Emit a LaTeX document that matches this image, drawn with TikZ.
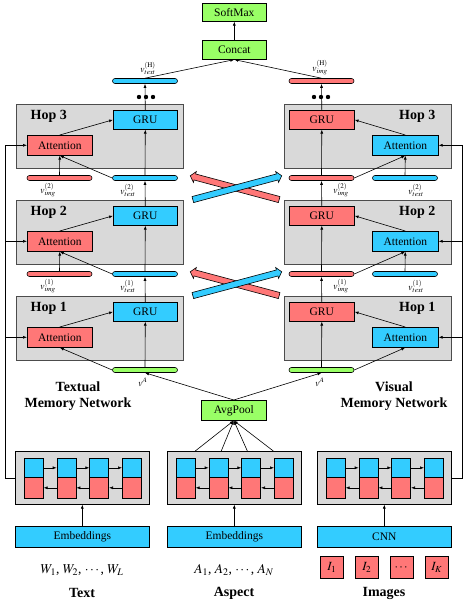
\documentclass[tikz,border=0pt]{standalone}
\usepackage{amsmath}
\usepackage{mathptmx}
\usepackage[no-math]{fontspec}
\setmainfont{Liberation Serif}
\usepackage{tikz}
\usetikzlibrary{arrows.meta,calc,shapes.arrows}
\definecolor{cellblue}{RGB}{51,204,255}
\definecolor{cellred}{RGB}{255,119,119}
\definecolor{cellgreen}{RGB}{153,255,102}
\definecolor{hopgray}{RGB}{217,217,217}

\begin{document}
\begin{tikzpicture}[x=1pt,y=-1pt,line width=0.6pt,
	blk/.style={draw, inner sep=0pt, anchor=north west, font=\fontsize{11.5}{12}\selectfont},
	bluebox/.style={blk, fill=cellblue},
	redbox/.style={blk, fill=cellred},
	greenbox/.style={blk, fill=cellgreen},
	hopbox/.style={blk, draw=black!70, fill=hopgray, minimum width=167, minimum height=64},
	lstmbox/.style={blk, fill=hopgray, minimum width=134, minimum height=53},
	vbar/.style={draw, rounded corners=2.5, minimum width=65, minimum height=5, inner sep=0pt},
	vlab/.style={font=\fontsize{9.5}{9.5}\selectfont},
	title/.style={font=\fontsize{14}{16}\selectfont\bfseries},
	arr/.style={-{Latex[length=4pt,width=3pt]}},
	crossarr/.style={single arrow, draw, inner sep=2.8pt, minimum height=92, single arrow head extend=2.5pt, single arrow tip angle=100}]
	\useasboundingbox (0,0) rectangle (464,610);

	\node[greenbox, minimum width=64, minimum height=18] (sm) at (202,3) {SoftMax};
	\node[greenbox, minimum width=64, minimum height=19] (cc) at (202,40) {Concat};
	\draw[arr] (cc) -- (sm);

	\foreach \h/\t in {1/296,2/200,3/104}{
		\node[hopbox] (lh\h) at (16,\t) {};
		\node[title, anchor=west] (lt\h) at (27,\t+12) {Hop \h};
		\node[bluebox, minimum width=64, minimum height=19] (lg\h) at (113,\t+6) {GRU};
		\node[redbox, minimum width=65, minimum height=20] (la\h) at (27,\t+31) {Attention};
		\node[hopbox] (rh\h) at (284,\t) {};
		\node[title, anchor=east] (rt\h) at (439,\t+12) {Hop \h};
		\node[redbox, minimum width=65, minimum height=19] (rg\h) at (289,\t+6) {GRU};
		\node[bluebox, minimum width=66, minimum height=20] (ra\h) at (372,\t+31) {Attention};
		\draw[arr] (la\h.north) -- (lg\h.west);
		\draw[arr] (ra\h.north) -- (rg\h.east);
	}

	\node[vbar, fill=cellgreen] (lva) at (145,370) {};
	\node[vbar, fill=cellgreen] (rva) at (321.5,370) {};
	\node[vlab] (lval) at (143,382) {$v^{A}$};
	\node[vlab] (rval) at (320,382) {$v^{A}$};
	\draw[arr] (lva.north) -- (lg1.south);
	\draw[arr] (lva.west) -- (la1.south);
	\draw[arr] (rva.north) -- (rg1.south);
	\draw[arr] (rva.east) -- (ra1.south);

	\foreach \h/\p/\t in {2/1/200,3/2/104}{
		\node[vbar, fill=cellred] (lbi\h) at (59.5,\t+74) {};
		\node[vbar, fill=cellblue] (lbt\h) at (145,\t+74) {};
		\node[vlab] (lbil\h) at (48,\t+86) {$v^{(\p)}_{img}$};
		\node[vlab] (lbtl\h) at (128,\t+86) {$v^{(\p)}_{text}$};
		\node[vbar, fill=cellred] (rbi\h) at (321.5,\t+74) {};
		\node[vbar, fill=cellblue] (rbt\h) at (405,\t+74) {};
		\node[vlab] (rbil\h) at (341,\t+86) {$v^{(\p)}_{img}$};
		\node[vlab] (rbtl\h) at (416,\t+86) {$v^{(\p)}_{text}$};
		\draw[arr] (lg\p.north) -- (lbt\h.south);
		\draw[arr] (lbt\h.north) -- (lg\h.south);
		\draw[arr] (lbi\h.north) -- (la\h.south);
		\draw[arr] (lbt\h.west) -- (la\h.south);
		\draw[arr] (rg\p.north) -- (rbi\h.south);
		\draw[arr] (rbi\h.north) -- (rg\h.south);
		\draw[arr] (rbt\h.north) -- (ra\h.south);
		\draw[arr] (rbi\h.east) -- (ra\h.south);
		\node[crossarr, fill=cellred, rotate=165] (xr\h) at (236,\t+84) {};
		\node[crossarr, fill=cellblue, rotate=15] (xb\h) at (236,\t+84) {};
	}

	\node[vbar, fill=cellblue] (lth) at (145,81) {};
	\node[vbar, fill=cellred] (rth) at (321.5,81) {};
	\node[vlab] (lthl) at (148,68) {$v^{(\mathrm{H})}_{text}$};
	\node[vlab] (rthl) at (320,68) {$v^{(\mathrm{H})}_{img}$};
	\draw[arr] (lg3.north) -- (lth.south);
	\draw[arr] (rg3.north) -- (rth.south);
	\draw[arr] (lth.north) -- (cc.south);
	\draw[arr] (rth.north) -- (cc.south);
	\foreach \d in {-7,0,7}{
		\fill (146+\d,97) circle (2.2);
		\fill (321+\d,97) circle (2.2);
	}

	\node[title, align=center] (tmn) at (78,396) {Textual\\Memory Network};
	\node[title, align=center] (vmn) at (394,396) {Visual\\Memory Network};
	\node[greenbox, minimum width=65, minimum height=20] (ap) at (201,400) {AvgPool};

	\foreach \n/\x in {tb/15,ab/167,ib/317}{
		\node[lstmbox] (\n) at (\x,451) {};
		\foreach \k in {1,...,4}{
			\node[bluebox, minimum width=19, minimum height=19] (\n-f\k) at (\x+9+\k*32.7-32.7,458) {};
			\node[redbox, minimum width=19, minimum height=21] (\n-b\k) at (\x+9+\k*32.7-32.7,477) {};
		}
		\foreach \k/\j in {1/2,2/3,3/4}{
			\draw[arr] (\n-f\k) -- (\n-f\j);
			\draw[arr] (\n-b\j) -- (\n-b\k);
		}
	}
	\foreach \f in {0.21,0.403,0.597,0.79}
		\draw[arr] ($(ab.north west)!\f!(ab.north east)$) -- (ap.south);
	\draw[arr] (ap.north) -- (lva.south);
	\draw[arr] (ap.north) -- (rva.south);

	\draw[arr] (tb.west) -- ++(-10,0) coordinate (lrail) |- (la3.west);
	\foreach \h in {1,2} \draw[arr] (lrail |- la\h.west) -- (la\h.west);
	\draw[arr] (ib.east) -- ++(11,0) coordinate (rrail) |- (ra3.east);
	\foreach \h in {1,2} \draw[arr] (rrail |- ra\h.east) -- (ra\h.east);

	\node[bluebox, minimum width=134, minimum height=21] (te) at (15,526) {Embeddings};
	\node[bluebox, minimum width=134, minimum height=21] (ae) at (167,526) {Embeddings};
	\node[bluebox, minimum width=134, minimum height=21] (cn) at (317,526) {CNN};
	\draw[arr] (te) -- (tb);
	\draw[arr] (ae) -- (ab);
	\draw[arr] (cn) -- (ib);

	\node[font=\fontsize{13.5}{14}\selectfont] (tw) at (82,570) {$W_1$, $W_2$, $\cdots$, $W_L$};
	\node[font=\fontsize{13.5}{14}\selectfont] (aw) at (234,570) {$A_1$, $A_2$, $\cdots$, $A_N$};
	\foreach \k/\s in {1/$I_1$,2/$I_2$,3/$\boldsymbol{\cdots}$,4/$I_K$}
		\node[redbox, minimum width=23, minimum height=22, font=\fontsize{12.5}{13}\selectfont] (im\k) at (320+\k*35-35,556) {\s};

	\node[title] (ttext) at (82,593) {Text};
	\node[title] (tasp) at (234,593) {Aspect};
	\node[title] (timg) at (384,593) {Images};
\end{tikzpicture}
\end{document}
